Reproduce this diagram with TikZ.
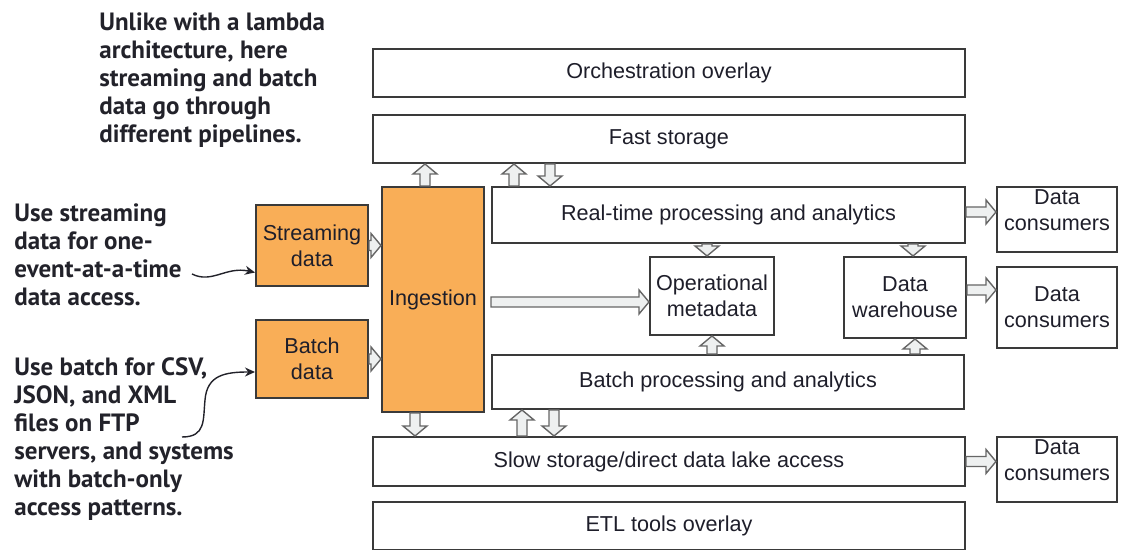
\documentclass[tikz,border=0pt]{standalone}
\usepackage{fontspec}
\setmainfont{Liberation Sans}
\newfontfamily\notefont{PT Sans}
\usetikzlibrary{calc,arrows.meta}
\definecolor{boxline}{HTML}{3A3A3A}
\definecolor{srcorange}{HTML}{F9AE57}
\definecolor{arrline}{HTML}{666666}
\definecolor{arrfill}{HTML}{EEF0F0}
\definecolor{notetext}{HTML}{22222A}
\definecolor{boxtext}{HTML}{1E1E2A}
\begin{document}
\begin{tikzpicture}[x=0.5pt, y=-0.5pt,
	box/.style = {draw=boxline, line width=1pt, fill=white, align=center, inner sep=0pt, text=boxtext, font=\fontsize{10.8}{13}\selectfont},
	src/.style = {box, fill=srcorange},
	note/.style = {anchor=north west, align=left, inner sep=0pt, text=notetext, font=\notefont\bfseries\fontsize{12.5}{14}\selectfont},
	curly/.style = {draw=notetext, line width=0.7pt, -{Stealth[length=5pt, width=4.5pt]}},
	fat/.style = {draw=arrline, fill=arrfill, line width=0.7pt, to path={
		let \p1=(\tikztostart), \p2=(\tikztotarget) in
		($(\p1)!2.5pt!90:(\p2)$)
		-- ($(\p2)!5pt!(\p1)!2.5pt!-90:(\p1)$)
		-- ($(\p2)!5pt!(\p1)!6pt!-90:(\p1)$)
		-- (\p2)
		-- ($(\p2)!5pt!(\p1)!6pt!90:(\p1)$)
		-- ($(\p2)!5pt!(\p1)!2.5pt!90:(\p1)$)
		-- ($(\p1)!2.5pt!-90:(\p2)$) -- cycle}}]
	\useasboundingbox (0,0) rectangle (1121,550);
	% notes
	\node[note] (n1) at (99,12) {Unlike with a lambda\\architecture, here\\streaming and batch\\data go through\\different pipelines.};
	\node[note] (n2) at (14,203) {Use streaming\\data for one-\\event-at-a-time\\data access.};
	\node[note] (n3) at (14,357) {Use batch for CSV,\\JSON, and XML\\files on FTP\\servers, and systems\\with batch-only\\access patterns.};
	\coordinate (c1) at (192,274);
	\coordinate (c2) at (182,437);
	% layers
	\node[box, minimum width=296pt, minimum height=24pt] (orch) at (669,73) {Orchestration overlay};
	\node[box, minimum width=296pt, minimum height=24pt] (fast) at (669,139) {Fast storage};
	\node[box, minimum width=236.5pt, minimum height=28pt] (rt) at (728.5,215) {Real-time processing and analytics};
	\node[box, minimum width=236pt, minimum height=27pt] (bp) at (728,382) {Batch processing and analytics};
	\node[box, minimum width=296pt, minimum height=24.5pt] (slow) at (669,461.5) {Slow storage/direct data lake access};
	\node[box, minimum width=296pt, minimum height=24pt] (etl) at (669,526) {ETL tools overlay};
	% sources
	\node[src, minimum width=56pt, minimum height=40.5pt] (stream) at (312,245.5) {Streaming\\data};
	\node[src, minimum width=56pt, minimum height=39pt] (batch) at (312,359) {Batch\\data};
	\node[src, minimum width=51pt, minimum height=112.5pt] (ingest) at (433,299.5) {Ingestion};
	% stores
	\node[box, minimum width=62pt, minimum height=39pt] (opmeta) at (712,296) {Operational\\metadata};
	\node[box, minimum width=61pt, minimum height=40.5pt] (dwh) at (905,297.5) {Data\\warehouse};
	% consumers
	\node[box, minimum width=60pt, minimum height=32.5pt, label={[align=center, yshift=4.5pt, text=boxtext, font=\fontsize{10.8}{13}\selectfont]center:Data\\consumers}] (dc1) at (1057,219.5) {};
	\node[box, minimum width=60pt, minimum height=40.5pt] (dc2) at (1057,307.5) {Data\\consumers};
	\node[box, minimum width=60pt, minimum height=32.5pt, label={[align=center, yshift=4.5pt, text=boxtext, font=\fontsize{10.8}{13}\selectfont]center:Data\\consumers}] (dc3) at (1057,469.5) {};
	% block arrows
	\draw[fat] ([xshift=-4pt]ingest.north) to ([xshift=-4pt]ingest.north |- fast.south);
	\draw[fat] ([xshift=11.5pt]rt.north west) to ([xshift=11.5pt]rt.north west |- fast.south);
	\draw[fat] ([xshift=29.5pt]rt.north west |- fast.south) to ([xshift=29.5pt]rt.north west);
	\draw[fat] (stream.east) to (stream.east -| ingest.west);
	\draw[fat] (batch.east) to (batch.east -| ingest.west);
	\draw[fat] ([yshift=-3pt]opmeta.west -| rt.west) to ([yshift=-3pt]opmeta.west);
	\draw[fat] ([xshift=-2.5pt]opmeta.north |- rt.south) to ([xshift=-2.5pt]opmeta.north);
	\draw[fat] ([xshift=4pt]dwh.north |- rt.south) to ([xshift=4pt]dwh.north);
	\draw[fat] (opmeta.south |- bp.north) to (opmeta.south);
	\draw[fat] ([xshift=5pt]dwh.south |- bp.north) to ([xshift=5pt]dwh.south);
	\draw[fat] ([xshift=-9pt]ingest.south) to ([xshift=-9pt]ingest.south |- slow.north);
	\draw[fat] ([xshift=15.5pt]bp.south west |- slow.north) to ([xshift=15.5pt]bp.south west);
	\draw[fat] ([xshift=31.5pt]bp.south west) to ([xshift=31.5pt]bp.south west |- slow.north);
	\draw[fat] ([yshift=1.5pt]rt.east) to ([yshift=1.5pt]rt.east -| dc1.west);
	\draw[fat] ([yshift=3.75pt]dwh.east) to ([yshift=3.75pt]dwh.east -| dc2.west);
	\draw[fat] (slow.east) to (slow.east -| dc3.west);
	% note pointers
	\draw[curly] (c1) .. controls (212,284) and (226,266) .. ([yshift=-13.5pt]stream.west);
	\draw[curly] (c2) .. controls (206,437) and (203,420) .. (205,400) .. controls (207,375) and (225,372) .. ([yshift=-6.5pt]batch.west);
\end{tikzpicture}
\end{document}
